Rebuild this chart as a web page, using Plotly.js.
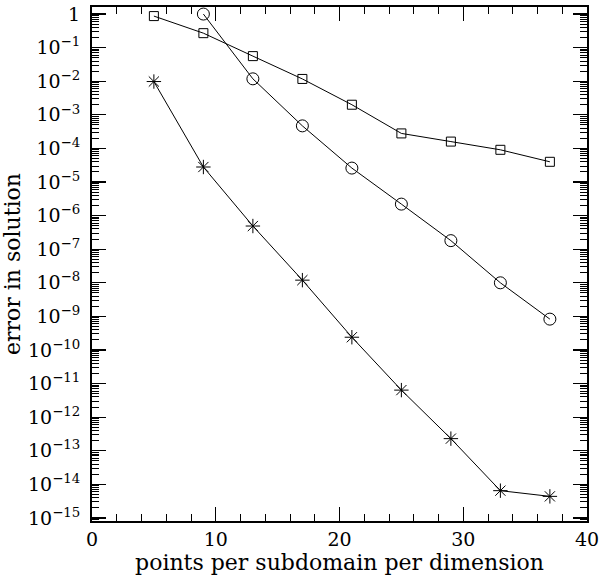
<!DOCTYPE html>
<html>
<head>
<meta charset="utf-8">
<script src="https://cdn.plot.ly/plotly-3.0.1.min.js"></script>
<style>html,body{margin:0;padding:0;background:#fff;}#chart{width:600px;height:577px;}</style>
</head>
<body>
<div id="chart"></div>
<script>
const xPoints = [5, 9, 13, 17, 21, 25, 29, 33, 37];
const squareErr = [0.87, 0.27, 0.056, 0.0117, 0.002, 2.8e-4, 1.6e-4, 9.1e-5, 4.0e-5];
const circleX = [9, 13, 17, 21, 25, 29, 33, 37];
const circleErr = [1.0, 0.0118, 4.7e-4, 2.6e-5, 2.2e-6, 1.8e-7, 1.0e-8, 8.3e-10];
const starErr = [0.0098, 2.8e-5, 4.9e-7, 1.2e-8, 2.4e-10, 6.4e-12, 2.3e-13, 6.5e-15, 4.4e-15];
const yTickVals = [1, 1e-1, 1e-2, 1e-3, 1e-4, 1e-5, 1e-6, 1e-7, 1e-8, 1e-9, 1e-10, 1e-11, 1e-12, 1e-13, 1e-14, 1e-15];
const yTickText = ['1', '10<sup>−1</sup>', '10<sup>−2</sup>', '10<sup>−3</sup>', '10<sup>−4</sup>', '10<sup>−5</sup>', '10<sup>−6</sup>', '10<sup>−7</sup>', '10<sup>−8</sup>', '10<sup>−9</sup>', '10<sup>−10</sup>', '10<sup>−11</sup>', '10<sup>−12</sup>', '10<sup>−13</sup>', '10<sup>−14</sup>', '10<sup>−15</sup>'];
const xTickVals = [0, 10, 20, 30, 40];
const xTickText = ['0', '10', '20', '30', '40'];

const font = 'DejaVu Serif, Liberation Serif, serif';
const lineStyle = {color: 'black', width: 1};

const traces = [
  {x: xPoints, y: squareErr, mode: 'lines+markers', line: lineStyle,
   marker: {symbol: 'square-open', size: 9, color: 'black', line: {width: 1, color: 'black'}}},
  {x: circleX, y: circleErr, mode: 'lines+markers', line: lineStyle,
   marker: {symbol: 'circle-open', size: 12, color: 'black', line: {width: 1, color: 'black'}}},
  {x: xPoints, y: starErr, mode: 'lines+markers', line: lineStyle,
   marker: {symbol: 'asterisk-open', size: 12, color: 'black', line: {width: 1, color: 'black'}}}
];

const layout = {
  width: 600, height: 577,
  margin: {l: 92, r: 13, t: 7, b: 56},
  paper_bgcolor: 'white', plot_bgcolor: 'white',
  showlegend: false,
  font: {family: font, color: 'black', size: 18},
  xaxis: {
    range: [0, 40], tickvals: xTickVals, ticktext: xTickText,
    ticks: 'inside', ticklen: 14, tickwidth: 1.2, tickcolor: 'black',
    minor: {dtick: 2, ticks: 'inside', ticklen: 7, tickwidth: 1, tickcolor: 'black'},
    showgrid: false, zeroline: false,
    showline: true, linecolor: 'black', linewidth: 2, mirror: 'ticks',
    tickfont: {family: font, size: 19},
    title: {text: 'points per subdomain per dimension', font: {family: font, size: 22}, standoff: 0}
  },
  yaxis: {
    type: 'log', range: [-15.09, 0.21],
    tickvals: yTickVals, ticktext: yTickText,
    ticks: 'inside', ticklen: 14, tickwidth: 1.2, tickcolor: 'black',
    minor: {dtick: 'D1', ticks: 'inside', ticklen: 7, tickwidth: 1, tickcolor: 'black'},
    showgrid: false, zeroline: false,
    showline: true, linecolor: 'black', linewidth: 2, mirror: 'ticks',
    tickfont: {family: font, size: 19},
    ticklabelstandoff: 6,
    title: {text: 'error in solution', font: {family: font, size: 22}, standoff: 2}
  }
};

Plotly.newPlot('chart', traces, layout, {staticPlot: true, displayModeBar: false});
</script>
</body>
</html>
